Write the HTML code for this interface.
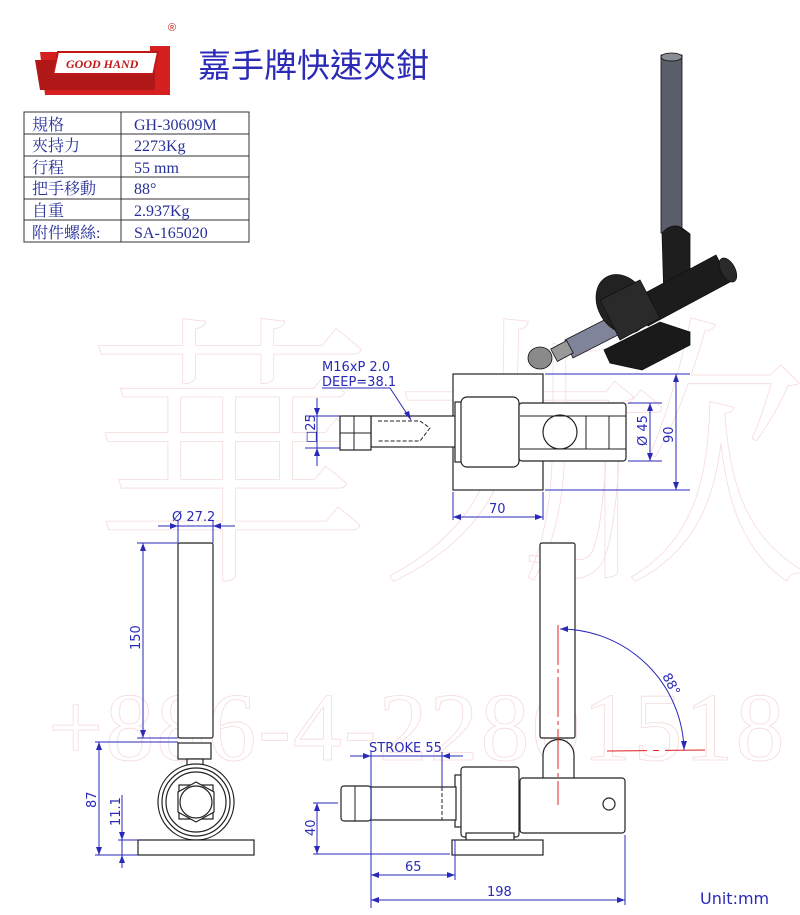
<!DOCTYPE html>
<html><head><meta charset="utf-8"><style>
body{margin:0;background:#fff;width:800px;height:915px;overflow:hidden}
svg{display:block}
.t{font-family:"Liberation Serif","Noto Serif CJK SC","Noto Sans CJK TC",serif;fill:#27309a;font-size:16px}
.d{font-family:"DejaVu Sans","Liberation Sans",sans-serif;fill:#2a2ab8;font-size:13px}
.k{stroke:#222;stroke-width:1.2;fill:#fff}
.b{stroke:#2a2ab8;stroke-width:1;fill:none}
.a{fill:#2a2ab8}
</style></head><body>
<svg width="800" height="915" viewBox="0 0 800 915" xmlns="http://www.w3.org/2000/svg">
<!-- watermark -->
<g font-family="Liberation Serif,serif" fill="none" stroke="#f6dada" stroke-width="0.8">
<text x="48" y="760" font-size="98" letter-spacing="2">+886-4-22801518</text>
<text x="85" y="560" font-size="290" font-family="Noto Serif CJK SC,serif" font-weight="200">華力</text>
<text x="520" y="560" font-size="290" font-family="Noto Serif CJK SC,serif" font-weight="200">欣</text>
</g>
<!-- logo -->
<g>
<path d="M40 52 L150 52 L150 46 L170 46 L170 95 L45 95 Z" fill="#d62020"/>
<path d="M35 60 L155 60 L155 90 L40 90 Z" fill="#b01818"/>
<rect x="55" y="52" width="100" height="22" fill="#fff" stroke="#c01818" stroke-width="2" transform="skewX(-12) translate(14,0)"/>
<text x="66" y="68" font-family="Liberation Serif,serif" font-style="italic" font-weight="bold" font-size="12" fill="#c01818">GOOD HAND</text>
<text x="168" y="31" font-size="11" fill="#c01818" font-family="Liberation Sans,sans-serif">®</text>
</g>
<text x="198" y="77" font-family="Liberation Sans,'Noto Sans CJK TC',sans-serif" font-size="33" fill="#2b2bb8">嘉手牌快速夾鉗</text>
<!-- table -->
<g stroke="#333" stroke-width="1" fill="none">
<rect x="24" y="112" width="225" height="130"/>
<line x1="121" y1="112" x2="121" y2="242"/>
<line x1="24" y1="134" x2="249" y2="134"/><line x1="24" y1="156" x2="249" y2="156"/>
<line x1="24" y1="177" x2="249" y2="177"/><line x1="24" y1="199" x2="249" y2="199"/>
<line x1="24" y1="220" x2="249" y2="220"/>
</g>
<g class="t">
<text x="32" y="130">規格</text><text x="134" y="130">GH-30609M</text>
<text x="32" y="151">夾持力</text><text x="134" y="151">2273Kg</text>
<text x="32" y="173">行程</text><text x="134" y="173">55 mm</text>
<text x="32" y="194">把手移動</text><text x="134" y="194">88°</text>
<text x="32" y="216">自重</text><text x="134" y="216">2.937Kg</text>
<text x="32" y="238">附件螺絲:</text><text x="134" y="238">SA-165020</text>
</g>
<!-- 3D render -->
<g stroke="#111" stroke-width="0.8">
<polygon points="604,350 660,322 690,332 690,345 642,370 610,363" fill="#1a1a1a"/>
<rect x="661" y="55" width="21" height="178" fill="#5a5e6a"/>
<ellipse cx="671.5" cy="57" rx="10.5" ry="4" fill="#8a8d96"/>
<path d="M662 233 Q672 222 682 228 L690 234 V290 L664 300 Z" fill="#1e1e1e"/>
<polygon points="632,300 716,255 730,282 648,326" fill="#1c1c1c"/>
<ellipse cx="728" cy="270" rx="7" ry="13" fill="#2a2a2a" transform="rotate(-28 728 270)"/>
<polygon points="565,340 612,316 620,334 573,358" fill="#80849a"/>
<ellipse cx="622" cy="304" rx="24" ry="31" fill="#222" transform="rotate(-30 622 304)"/>
<polygon points="600,300 640,280 660,318 620,340" fill="#2a2a2a"/>
<rect x="553" y="344" width="18" height="14" fill="#999" transform="rotate(-28 562 351)"/>
<ellipse cx="540" cy="358" rx="12" ry="11" fill="#8a8a8a"/>
</g>
<!-- top view -->
<g>
<rect x="453" y="374" width="90" height="116" class="k"/>
<rect x="371" y="416" width="90" height="31" class="k"/>
<rect x="340" y="416" width="31" height="34" class="k"/>
<line x1="340" y1="433" x2="371" y2="433" stroke="#222"/><line x1="354" y1="416" x2="354" y2="450" stroke="#222"/>
<path d="M378 421 H420 L430 428 L420 441 H378" fill="none" stroke="#222" stroke-dasharray="4 2"/>
<rect x="455" y="402" width="8" height="60" class="k"/>
<rect x="461" y="397" width="58" height="70" rx="6" class="k"/>
<rect x="519" y="403" width="107" height="58" rx="3" class="k"/>
<circle cx="560" cy="432" r="17" class="k"/>
<line x1="586" y1="416" x2="586" y2="449" stroke="#222"/><line x1="609" y1="416" x2="609" y2="449" stroke="#222"/>
<line x1="520" y1="416" x2="626" y2="416" stroke="#222"/><line x1="520" y1="449" x2="626" y2="449" stroke="#222"/>
</g>
<g class="b">
<line x1="317" y1="398" x2="317" y2="466"/><line x1="305" y1="416" x2="340" y2="416"/><line x1="305" y1="448" x2="340" y2="448"/>
<line x1="545" y1="374" x2="690" y2="374"/><line x1="545" y1="490" x2="690" y2="490"/><line x1="676" y1="374" x2="676" y2="490"/>
<line x1="628" y1="403" x2="662" y2="403"/><line x1="628" y1="461" x2="662" y2="461"/><line x1="650" y1="403" x2="650" y2="461"/>
<line x1="453" y1="492" x2="453" y2="520"/><line x1="543" y1="492" x2="543" y2="520"/><line x1="453" y1="517" x2="543" y2="517"/>
<polyline points="322,388 390,388 411,420"/>
</g>
<g class="d">
<text x="322" y="371">M16xP 2.0</text><text x="322" y="386">DEEP=38.1</text>
<text x="489" y="513">70</text>
<text transform="translate(315,443) rotate(-90)">□25</text>
<text transform="translate(647,446) rotate(-90)">Ø 45</text>
<text transform="translate(673,443) rotate(-90)">90</text>
</g>
<!-- front view -->
<g>
<rect x="178" y="543" width="35" height="195" rx="2" class="k"/>
<rect x="178" y="743" width="33" height="16" class="k"/>
<rect x="187" y="759" width="16" height="8" class="k"/>
<circle cx="196" cy="802" r="38" class="k"/><circle cx="196" cy="802" r="34" class="k"/><circle cx="196" cy="802" r="30" class="k"/>
<rect x="179" y="785" width="34" height="34" class="k"/>
<polygon points="196,782 214,792 214,812 196,822 178,812 178,792" class="k"/>
<circle cx="196" cy="802" r="16" class="k"/>
<rect x="138" y="840" width="116" height="15" class="k"/>
</g>
<g class="b">
<line x1="158" y1="526" x2="235" y2="526"/><line x1="178" y1="520" x2="178" y2="543"/><line x1="213" y1="520" x2="213" y2="543"/>
<line x1="137" y1="543" x2="178" y2="543"/><line x1="137" y1="738" x2="178" y2="738"/><line x1="143" y1="543" x2="143" y2="738"/>
<line x1="95" y1="742" x2="178" y2="742"/><line x1="95" y1="855" x2="138" y2="855"/><line x1="99" y1="742" x2="99" y2="855"/>
<line x1="122" y1="795" x2="122" y2="868"/><line x1="118" y1="840" x2="138" y2="840"/>
</g>
<g class="d">
<text x="172" y="521">Ø 27.2</text>
<text transform="translate(140,650) rotate(-90)">150</text>
<text transform="translate(96,808) rotate(-90)">87</text>
<text transform="translate(120,826) rotate(-90)">11.1</text>
</g>
<!-- side view -->
<g>
<rect x="540" y="543" width="35" height="195" rx="2" class="k"/>
<path d="M543 780 V755 A15.5 15.5 0 0 1 574 755 V780" class="k"/>
<rect x="520" y="778" width="105" height="55" rx="3" class="k"/>
<circle cx="609" cy="804" r="6" class="k"/>
<rect x="455" y="775" width="8" height="52" class="k"/>
<rect x="461" y="767" width="58" height="70" rx="3" class="k"/>
<rect x="466" y="833" width="48" height="7" class="k"/>
<rect x="452" y="840" width="91" height="15" class="k"/>
<rect x="371" y="787" width="85" height="33" class="k"/>
<line x1="442" y1="787" x2="442" y2="820" stroke="#222" stroke-dasharray="4 2"/>
<rect x="341" y="786" width="30" height="35" rx="3" class="k"/>
<line x1="355" y1="786" x2="355" y2="821" stroke="#222"/>
</g>
<g stroke="#e02020" stroke-width="1" fill="none">
<line x1="558" y1="625" x2="558" y2="805" stroke-dasharray="40 4 4 4"/>
<line x1="607" y1="751" x2="710" y2="750" stroke-dasharray="40 6 6 6"/>
</g>
<g class="b">
<path d="M560 629 A124 124 0 0 1 684 750"/>
<line x1="350" y1="756" x2="463" y2="756"/><line x1="371" y1="752" x2="371" y2="908"/><line x1="442" y1="752" x2="442" y2="787"/>
<line x1="313" y1="803" x2="338" y2="803"/><line x1="313" y1="854" x2="450" y2="854"/><line x1="317" y1="803" x2="317" y2="854"/>
<line x1="455" y1="840" x2="455" y2="880"/><line x1="371" y1="875" x2="455" y2="875"/>
<line x1="625" y1="835" x2="625" y2="905"/><line x1="371" y1="900" x2="625" y2="900"/>
</g>
<g class="a">
<polygon points="560,629 568,626 568,632"/><polygon points="684,750 681,741 687,741"/>
<polygon points="371,756 363,753 363,759"/><polygon points="442,756 450,753 450,759"/>
<polygon points="371,875 379,872 379,878"/><polygon points="455,875 447,872 447,878"/>
<polygon points="371,900 379,897 379,903"/><polygon points="625,900 617,897 617,903"/>
<polygon points="317,803 314,811 320,811"/><polygon points="317,854 314,846 320,846"/>
<polygon points="143,543 140,551 146,551"/><polygon points="143,738 140,730 146,730"/>
<polygon points="99,742 96,750 102,750"/><polygon points="99,855 96,847 102,847"/>
<polygon points="122,840 119,832 125,832"/><polygon points="122,855 119,863 125,863"/>
<polygon points="178,526 170,523 170,529"/><polygon points="213,526 221,523 221,529"/>
<polygon points="453,517 461,514 461,520"/><polygon points="543,517 535,514 535,520"/>
<polygon points="676,374 673,382 679,382"/><polygon points="676,490 673,482 679,482"/>
<polygon points="650,403 647,411 653,411"/><polygon points="650,461 647,453 653,453"/>
<polygon points="317,416 314,408 320,408"/><polygon points="317,448 314,456 320,456"/>
<polygon points="411,420 404,413 409,411"/>
</g>
<g class="d">
<text x="369" y="752">STROKE 55</text>
<text x="405" y="871">65</text>
<text x="487" y="896">198</text>
<text transform="translate(315,836) rotate(-90)">40</text>
<text transform="translate(662,676) rotate(62)">88°</text>
<text x="700" y="904" font-size="16">Unit:mm</text>
</g>
</svg>
</body></html>
